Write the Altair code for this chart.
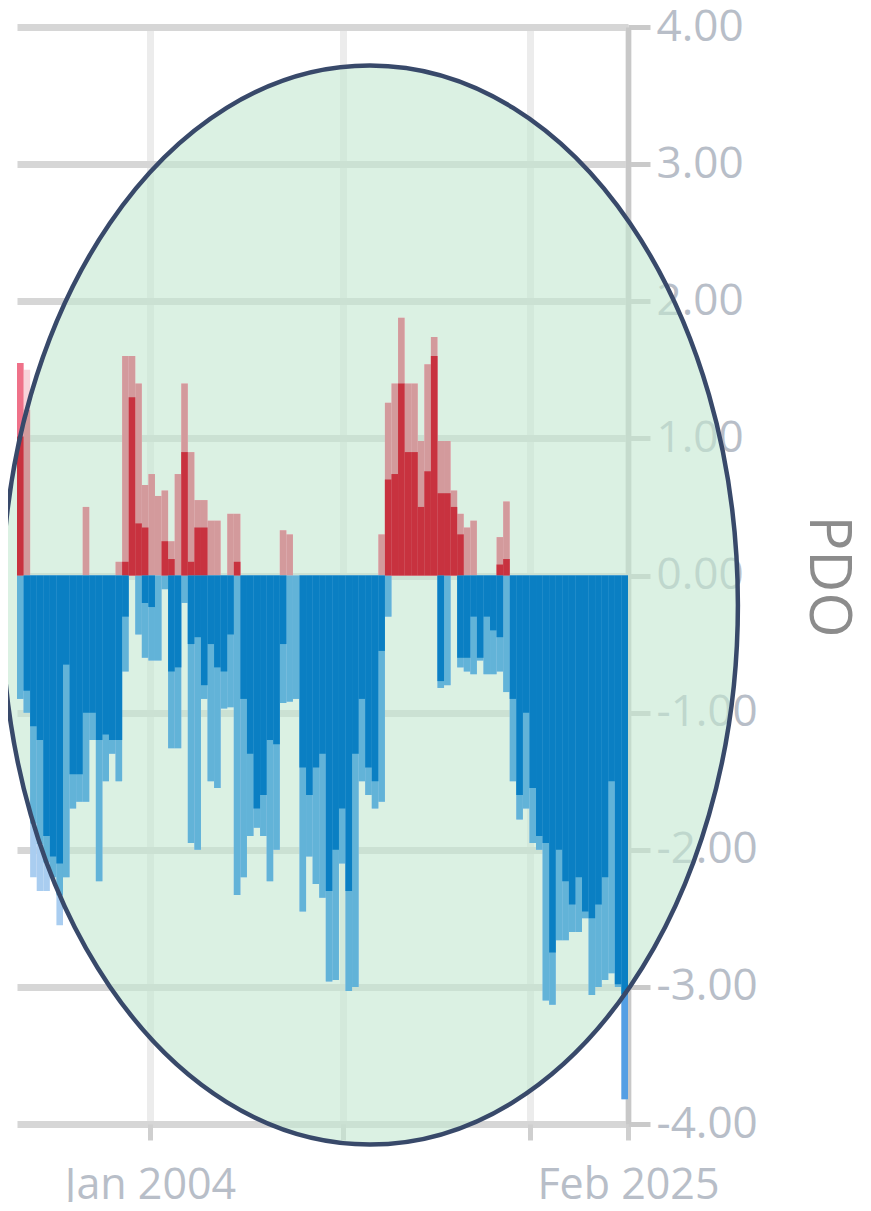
import altair as alt
import pandas as pd

# ---------------- data ----------------
# PDO index, one column per ~3.5-month period from Feb 1998 to Feb 2025.
# *_max : farthest extent reached inside the period (lighter tint)
# *_core: extent covered by most of the period (solid colour)
pos_max = [1.55, 1.5, 0, 0, 0, 0, 0, 0, 0, 0,
           0.5, 0, 0, 0, 0, 0.1, 1.6, 1.6, 1.4, 0.66,
           0.74, 0.58, 0.62, 0.25, 0.74, 1.4, 0.9, 0.55, 0.55, 0.4,
           0.4, 0, 0.45, 0.45, 0, 0, 0, 0, 0, 0,
           0.33, 0.3, 0, 0, 0, 0, 0, 0, 0, 0,
           0, 0, 0, 0, 0, 0.3, 1.26, 1.4, 1.88, 1.4,
           1.4, 0.98, 1.54, 1.74, 0.98, 0.98, 0.62, 0.45, 0.35, 0.4,
           0, 0, 0, 0.28, 0.54, 0, 0, 0, 0, 0,
           0, 0, 0, 0, 0, 0, 0, 0, 0, 0,
           0, 0, 0]
pos_core = [1.55, 0, 0, 0, 0, 0, 0, 0, 0, 0,
            0, 0, 0, 0, 0, 0, 0.1, 1.3, 0.38, 0.35,
            0, 0, 0.25, 0.12, 0, 0.9, 0.1, 0.35, 0.35, 0,
            0, 0, 0, 0.1, 0, 0, 0, 0, 0, 0,
            0, 0, 0, 0, 0, 0, 0, 0, 0, 0,
            0, 0, 0, 0, 0, 0, 0.7, 0.74, 1.4, 0.9,
            0.9, 0.5, 0.76, 1.6, 0.6, 0.6, 0.5, 0.3, 0, 0,
            0, 0, 0, 0.08, 0.12, 0, 0, 0, 0, 0,
            0, 0, 0, 0, 0, 0, 0, 0, 0, 0,
            0, 0, 0]
neg_min = [-0.9, -1.0, -2.2, -2.3, -2.3, -2.2, -2.55, -2.2, -1.7, -1.65,
           -1.65, -1.2, -2.23, -1.5, -1.3, -1.5, -0.7, 0, -0.43, -0.6,
           -0.62, -0.62, -0.1, -1.26, -1.26, -0.2, -1.95, -2.0, -0.9, -1.5,
           -1.55, -0.97, -0.96, -2.33, -2.2, -1.9, -1.84, -1.9, -2.23, -2.0,
           -0.93, -0.92, -0.9, -2.45, -2.05, -2.25, -2.35, -2.96, -2.95, -2.1,
           -3.03, -3.0, -1.5, -1.6, -1.7, -1.65, -0.3, 0, 0, 0,
           0, 0, 0, 0, -0.82, -0.8, 0, -0.67, -0.7, -0.72,
           -0.62, -0.72, -0.72, -0.7, -0.85, -1.5, -1.78, -1.7, -1.95, -2.0,
           -3.1, -3.13, -2.66, -2.66, -2.6, -2.6, -2.5, -3.06, -3.0, -2.95,
           -2.9, -3.0, -3.82]
neg_core = [0, -0.84, -1.1, -1.2, -1.9, -2.05, -2.1, -0.65, -1.45, -1.45,
            -1.0, -1.0, -1.2, -1.16, -1.2, -1.2, -0.3, 0, 0, -0.2,
            -0.23, 0, 0, -0.7, -0.67, 0, -0.5, -0.45, -0.8, -0.5,
            -0.67, -0.7, -0.43, 0, -0.9, -1.3, -1.7, -1.6, -1.2, -1.23,
            -0.5, 0, 0, -1.4, -1.6, -1.4, -1.3, -2.3, -2.0, -1.7,
            -2.3, -1.3, -0.9, -1.4, -1.5, -0.55, 0, 0, 0, 0,
            0, 0, 0, 0, -0.77, 0, 0, -0.6, -0.6, -0.3,
            -0.6, -0.3, -0.4, -0.45, 0, -0.9, -1.6, -1.0, -1.55, -1.9,
            -1.95, -2.75, -2.0, -2.23, -2.4, -2.2, -2.45, -2.5, -2.4, -2.2,
            -1.5, -2.98, -3.82]

X_START, X_END = 1998.133, 2025.085          # decimal years shown
N = len(pos_max)
STEP = (X_END - X_START) / N
period_start = [X_START + i * STEP for i in range(N)]
period_end = [s + STEP for s in period_start]

tick_years = [2004.0, 2012.51, 2020.76, 2025.083]
tick_text = ["Jan 2004", "", "", "Feb 2025"]
y_ticks = [-4, -3, -2, -1, 0, 1, 2, 3, 4]

# highlight ellipse (centre in data units, radii in pixels)
ELL_CX, ELL_CY = 2013.70, -0.215
ELL_RX_PX, ELL_RY_PX = 368, 539.5

# ---------------- layout ----------------
W, H = 611, 1097
px_year = W / (X_END - X_START)
px_unit = H / 8.0
rx = ELL_RX_PX / px_year
ry = ELL_RY_PX / px_unit

df = pd.DataFrame({
    "start": period_start, "end": period_end,
    "p_out": pos_max, "p_in": pos_core,
    "n_out": neg_min, "n_in": neg_core,
})

label_expr_x = " : ".join(
    f"abs(datum.value - {v}) < 0.01 ? '{t}'" for v, t in zip(tick_years, tick_text)
) + " : ''"

FONT = "Open Sans"
LABEL_COLOR = "#b8bec8"

xscale = alt.Scale(domain=[X_START, X_END], nice=False, zero=False)
yscale = alt.Scale(domain=[-4, 4], nice=False, zero=False)

xaxis = alt.Axis(values=tick_years, labelExpr=label_expr_x, title=None,
                 labelFont=FONT, labelFontSize=43, labelColor=LABEL_COLOR,
                 labelPadding=24, labelFlush=False, labelOverlap=False,
                 labelLimit=500,
                 tickSize=16, tickWidth=5, tickColor="#cfcfcf",
                 domain=False, grid=True, gridColor="#ececec", gridWidth=7)
yaxis = alt.Axis(orient="right", values=y_ticks,
                 labelExpr="(datum.value < 0 ? '-' : '') + format(abs(datum.value), '.2f')",
                 labelFont=FONT, labelFontSize=44, labelColor=LABEL_COLOR,
                 labelPadding=6, labelFlush=False, labelOverlap=False,
                 labelLimit=500,
                 tickSize=22, tickWidth=5, tickColor="#cacaca",
                 domainColor="#c8c8c8", domainWidth=5,
                 grid=True, gridColor="#d6d6d6", gridWidth=7,
                 title="PDO", titleFont=FONT, titleFontSize=58,
                 titleFontWeight="normal", titleColor="#8c8c8c",
                 titleAngle=90, titleAlign="center", titleBaseline="middle",
                 titleX=198, titleY=549)

base = alt.Chart(df).transform_calculate(
    zero="0",
    h=f"{ry} * sqrt(max(0, 1 - pow(((datum.start + datum.end) / 2 - {ELL_CX}) / {rx}, 2)))",
).transform_calculate(
    lo=f"{ELL_CY} - datum.h", hi=f"{ELL_CY} + datum.h",
).transform_calculate(
    z_c="clamp(0, datum.lo, datum.hi)",
    po_c="clamp(datum.p_out, datum.lo, datum.hi)",
    pi_c="clamp(datum.p_in, datum.lo, datum.hi)",
    no_c="clamp(datum.n_out, datum.lo, datum.hi)",
    ni_c="clamp(datum.n_in, datum.lo, datum.hi)",
)


def rect(y_field, y2_field, color):
    return base.mark_rect(color=color, strokeWidth=0).encode(
        x=alt.X("start:Q", scale=xscale, axis=xaxis),
        x2="end:Q",
        y=alt.Y(f"{y_field}:Q", scale=yscale, axis=yaxis),
        y2=f"{y2_field}:Q",
    )


# faded bars (visible outside the ellipse)
out_layers = [
    rect("p_out", "zero", "#f8d3da"),
    rect("n_out", "zero", "#a9cdf0"),
    rect("p_in", "zero", "#ef7189"),
    rect("n_in", "zero", "#549fe4"),
]
# full-colour bars inside the ellipse
in_layers = [
    rect("po_c", "z_c", "#d39a9c"),
    rect("no_c", "z_c", "#62b3d8"),
    rect("pi_c", "z_c", "#c8323f"),
    rect("ni_c", "z_c", "#0a7fc3"),
]

a = ELL_RX_PX / ELL_RY_PX
k = 0.5523
ka = k * a
ell_path = (f"M 0 -1 C {ka:.4f} -1 {a:.4f} {-k} {a:.4f} 0 "
            f"C {a:.4f} {k} {ka:.4f} 1 0 1 "
            f"C {-ka:.4f} 1 {-a:.4f} {k} {-a:.4f} 0 "
            f"C {-a:.4f} {-k} {-ka:.4f} -1 0 -1 Z")
ell_size = (2 * ELL_RY_PX) ** 2
ell_df = pd.DataFrame({"cx": [ELL_CX], "cy": [ELL_CY]})
ell_enc = dict(x=alt.X("cx:Q", scale=xscale, axis=xaxis),
               y=alt.Y("cy:Q", scale=yscale, axis=yaxis))

ell_fill = alt.Chart(ell_df).mark_point(
    shape=ell_path, size=ell_size, filled=True, fill="#c3e8d0",
    fillOpacity=0.6, opacity=1, strokeWidth=0,
).encode(**ell_enc)
ell_stroke = alt.Chart(ell_df).mark_point(
    shape=ell_path, size=ell_size, filled=False, stroke="#38496a",
    strokeWidth=4.5, opacity=1,
).encode(**ell_enc)

chart = alt.layer(ell_fill, *out_layers, *in_layers, ell_stroke).properties(
    width=W, height=H,
    padding={"left": 9, "top": 19, "right": 230, "bottom": 78},
    autosize=alt.AutoSizeParams(type="none"),
).configure_view(strokeWidth=0)

chart.save("out.html", embed_options={"renderer": "svg", "actions": False})
